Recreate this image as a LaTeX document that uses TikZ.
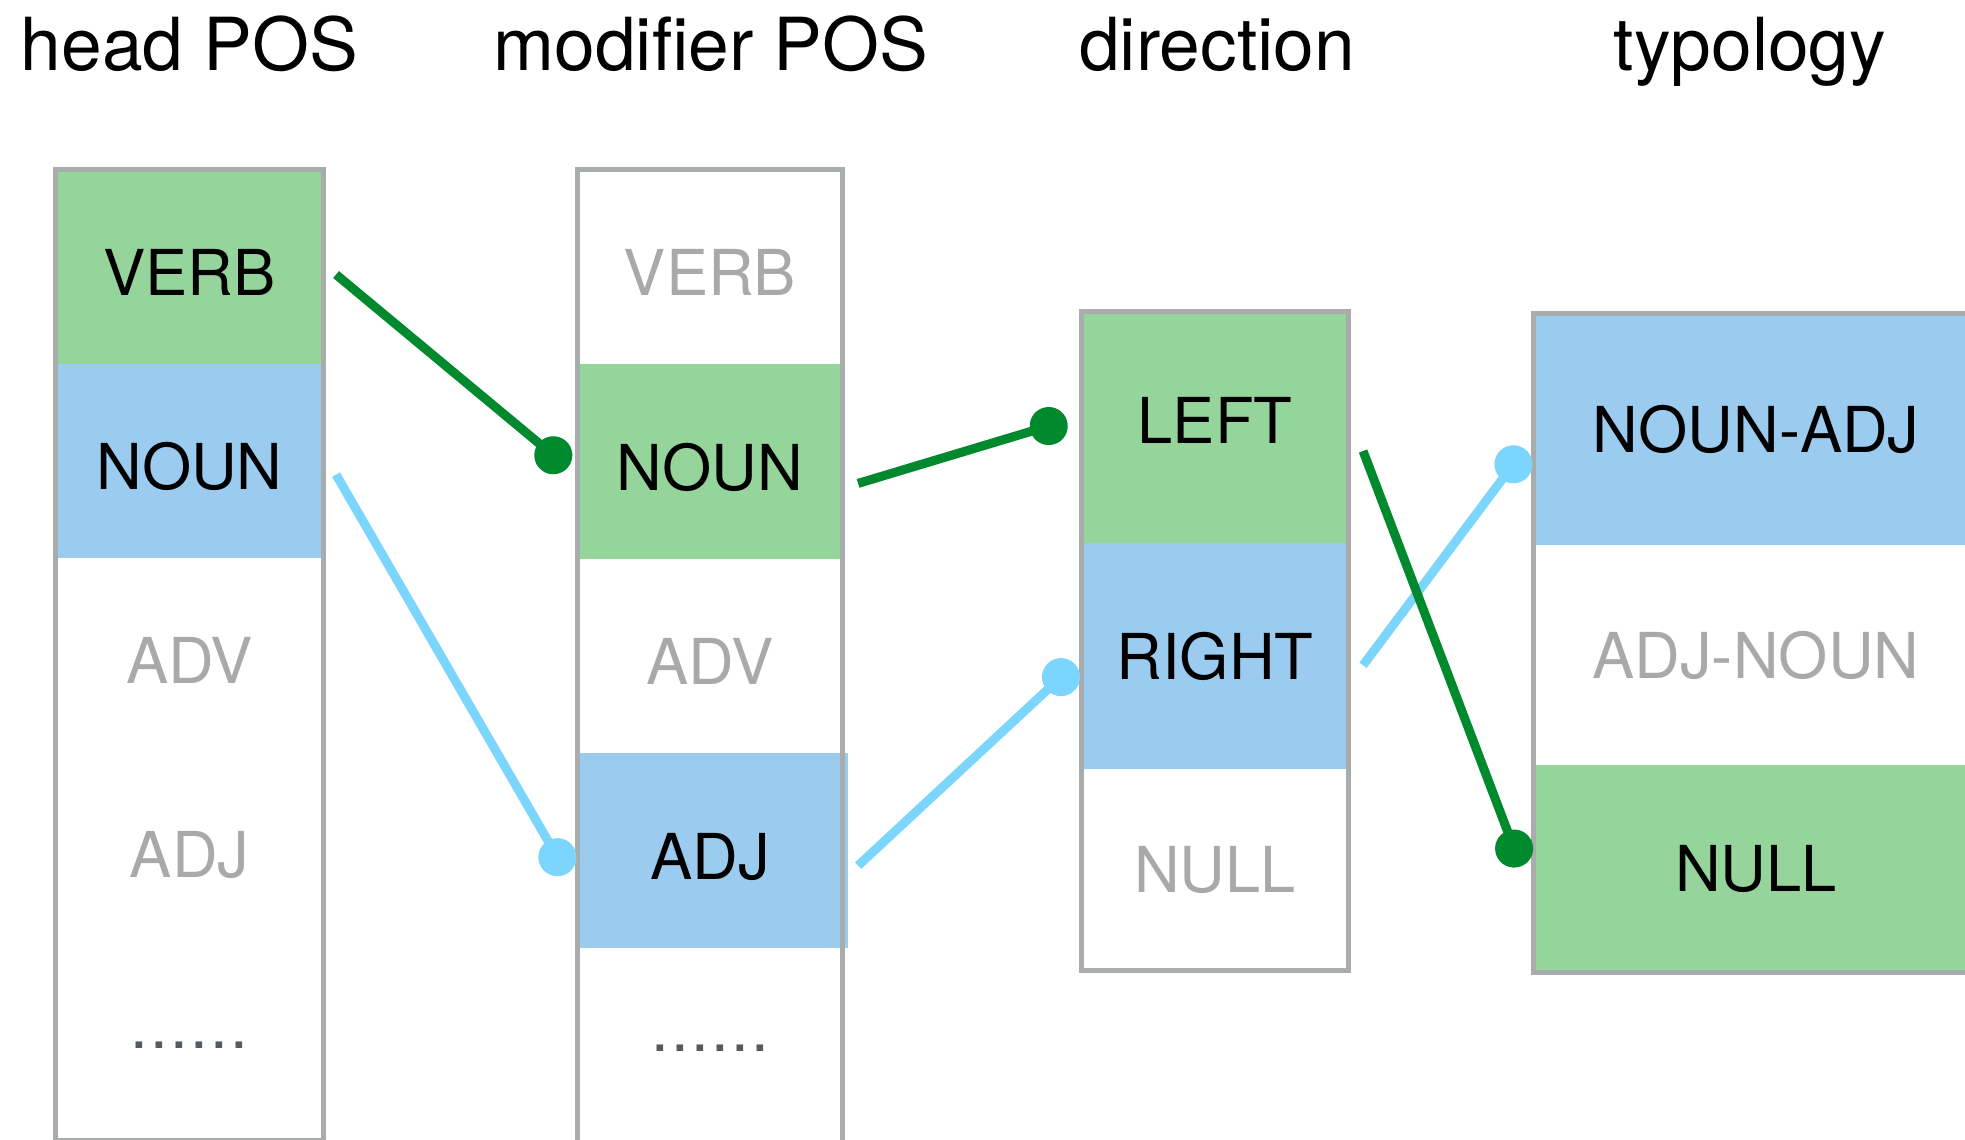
\documentclass[tikz,border=0pt]{standalone}
\usepackage{fontspec}
\setmainfont{TeX Gyre Heros}
\usetikzlibrary{arrows.meta,positioning}

\definecolor{cellgreen}{HTML}{95D59C}
\definecolor{cellblue}{HTML}{9BCBEF}
\definecolor{framegray}{HTML}{A9ACAC}
\definecolor{offgray}{HTML}{A8AAAA}
\definecolor{linkgreen}{HTML}{00892D}
\definecolor{linkblue}{HTML}{7BD5FC}
\definecolor{dotgray}{HTML}{555A60}

\newcommand{\cellfont}{\fontsize{18}{21}\selectfont}
\newcommand{\headfont}{\fontsize{20.8}{25}\selectfont}
% spaced-out ellipsis for the open end of a column
\newcommand{\moredots}{\raisebox{6.5pt}{.\kern0.7pt.\kern0.7pt.\kern0.7pt.\kern0.7pt.\kern0.7pt.}}

\tikzset{
    title/.style={anchor=base, inner sep=0pt, font=\headfont},
    cell/.style={inner sep=0pt, outer sep=0pt, font=\cellfont},
    off/.style={text=offgray},
    hcol/.style={cell, minimum width=2.67cm, minimum height=1.94cm, text height=16.4pt, text depth=0pt},
    mcol/.style={cell, minimum width=2.64cm, minimum height=1.945cm, text height=16.4pt, text depth=0pt},
    dcol/.style={cell, minimum width=2.66cm},
    tcol/.style={cell, minimum width=4.44cm},
    frame/.style={draw=framegray, line width=0.05cm},
    link/.style={line width=0.09cm, -{Circle[length=0.38cm]}},
    glink/.style={link, linkgreen},
    blink/.style={link, linkblue},
}

\begin{document}
\begin{tikzpicture}[x=0.01cm, y=-0.01cm]
    \useasboundingbox (0,0) rectangle (1965,1140);

    % column titles
    \node[title] (head) at (189.5,71) {head POS};
    \node[title] (mod) at (711,71) {modifier POS};
    \node[title] (dir) at (1217,71) {direction};
    \node[title] (typ) at (1750,71) {typology};

    % head POS
    \node[hcol, fill=cellgreen, anchor=north] (h-verb) at (189.5,169.5) {VERB};
    \node[hcol, fill=cellblue, below=0pt of h-verb] (h-noun) {NOUN};
    \node[hcol, off, below=0pt of h-noun] (h-adv) {ADV};
    \node[hcol, off, below=0pt of h-adv] (h-adj) {ADJ};
    \node[hcol, text=dotgray, below=0pt of h-adj] (h-more) {\moredots};
    \draw[frame] (h-verb.north west) rectangle (h-more.south east);

    % modifier POS
    \node[mcol, off, anchor=north] (m-verb) at (710,169.5) {VERB};
    \node[mcol, fill=cellgreen, below=0pt of m-verb] (m-noun) {NOUN};
    \node[mcol, off, below=0pt of m-noun] (m-adv) {ADV};
    \node[mcol, fill=cellblue, below=0pt of m-adv] (m-adj) {ADJ};
    \node[mcol, text=dotgray, below=0pt of m-adj] (m-more) {\moredots};
    \fill[cellblue] (m-adj.north east) rectangle ([xshift=0.06cm]m-adj.south east);
    \draw[frame] (m-verb.north west) rectangle (m-more.south east);

    % direction
    \node[dcol, fill=cellgreen, minimum height=2.31cm, text height=13pt, text depth=4pt, anchor=north] (d-left) at (1215,312) {LEFT};
    \node[dcol, fill=cellblue, minimum height=2.26cm, below=0pt of d-left] (d-right) {RIGHT};
    \node[dcol, off, minimum height=2.01cm, below=0pt of d-right] (d-null) {NULL};
    \draw[frame] (d-left.north west) rectangle (d-null.south east);

    % typology
    \node[tcol, fill=cellblue, minimum height=2.31cm, anchor=north] (t-nounadj) at (1756,314) {NOUN-ADJ};
    \node[tcol, off, minimum height=2.20cm, below=0pt of t-nounadj] (t-adjnoun) {ADJ-NOUN};
    \node[tcol, fill=cellgreen, minimum height=2.07cm, below=0pt of t-adjnoun] (t-null) {NULL};
    \draw[frame] (t-nounadj.north west) rectangle (t-null.south east);

    % links
    \draw[glink] ([shift={(13,8)}]h-verb.east) -- ([shift={(-10,6)}]m-noun.west);
    \draw[blink] ([shift={(13,14)}]h-noun.east) -- ([shift={(-11,23)}]m-adj.west);
    \draw[glink] ([shift={(16,22)}]m-noun.east) -- ([shift={(-15,-7)}]d-left.west);
    \draw[blink] ([shift={(16,15)}]m-adj.east) -- ([shift={(-7,8)}]d-right.west);
    \draw[blink] ([shift={(15,9)}]d-right.east) -- ([shift={(-9,19.5)}]t-nounadj.west);
    \draw[glink] ([shift={(15,23.5)}]d-left.east) -- ([shift={(-13,-2.5)}]t-null.west);
\end{tikzpicture}
\end{document}
